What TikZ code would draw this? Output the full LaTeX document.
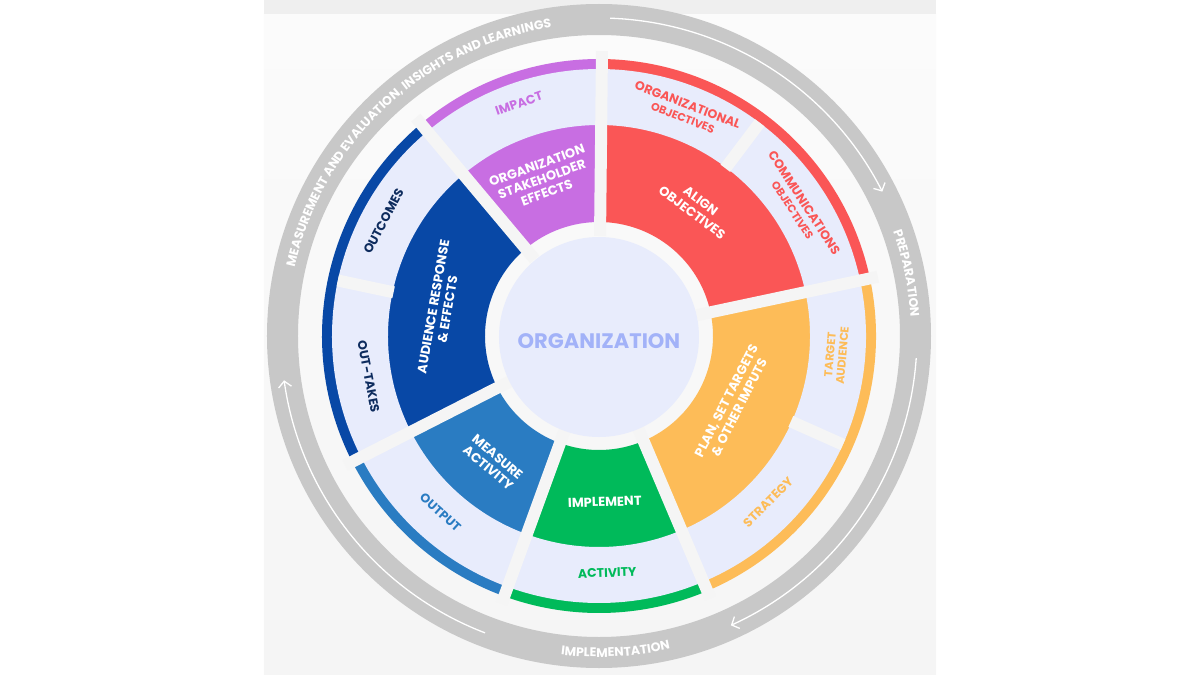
\documentclass[tikz,border=0pt]{standalone}
\usepackage{fontspec}
\setmainfont{Poppins}
\usetikzlibrary{arrows.meta,decorations.text}
\definecolor{panelbg}{RGB}{245,245,245}
\definecolor{topstrip}{RGB}{239,239,239}
\definecolor{ringgray}{RGB}{200,200,200}
\definecolor{lav}{RGB}{232,236,252}
\definecolor{orgred}{RGB}{250,86,86}
\definecolor{orgpurple}{RGB}{200,110,226}
\definecolor{darkblue}{RGB}{8,72,166}
\definecolor{midblue}{RGB}{42,124,194}
\definecolor{orggreen}{RGB}{0,186,90}
\definecolor{orgorange}{RGB}{253,188,88}
\definecolor{navytext}{RGB}{14,44,94}
\definecolor{centertext}{RGB}{162,178,248}

\newcommand{\ringpart}[5]{\fill[#1] (#2:#4) arc[start angle=#2, end angle=#3, radius=#4] -- (#3:#5) arc[start angle=#3, end angle=#2, radius=#5] -- cycle;}

\begin{document}
\begin{tikzpicture}[
    x=1pt, y=1pt,
    inner/.style={font=\bfseries\fontsize{13}{14.5}\selectfont, text=white, align=center, inner sep=0pt},
    outer/.style={font=\bfseries\fontsize{12.5}{13.5}\selectfont, align=center, inner sep=0pt},
    cut/.style={draw=panelbg, line width=12pt},
    flow/.style={white, line width=1.3pt, -{Straight Barb[length=6pt,width=13pt]}},
    ringtext/.style={decorate, decoration={text along path, text align=center, text color=white}}
]
\useasboundingbox (-599,-339) rectangle (601,336);
\shade[top color=panelbg!40!white, bottom color=panelbg] (-335,-339) rectangle (337,322);
\fill[topstrip] (-335,322) rectangle (337,336);
\draw[ringgray, line width=31pt] (0,0) circle[radius=316.5];

\foreach \a/\b/\c in {12/89.4/orgred, 89.4/130/orgpurple, 130/207/darkblue, 207/250/midblue, 250/293/orggreen, 293/372/orgorange}{
  \ringpart{\c}{\a}{\b}{114}{277}
  \ringpart{lav}{\a}{\b}{211}{267}
}
\foreach \a in {12,89.4,130,207,250,293}
  \draw[cut] (\a:100) -- (\a:285);
\foreach \a in {53,168,336}
  \draw[cut] (\a:210) -- (\a:267);

\fill[lav] (0,-1) circle[radius=100];
\node[font=\bfseries\fontsize{21}{24}\selectfont, text=centertext] (org) at (0,-5) {ORGANIZATION};

\node[inner, rotate=20] (stake) at (110:167) {ORGANIZATION\\STAKEHOLDER\\EFFECTS};
\node[inner, rotate=-37] (align) at (53:162) {ALIGN\\OBJECTIVES};
\node[inner, rotate=63] (plan) at (-27:150) {PLAN, SET TARGETS\\\& OTHER IMPUTS};
\node[inner, rotate=2] (impl) at (-88:166) {IMPLEMENT};
\node[inner, rotate=-40] (meas) at (-130:165) {MEASURE\\ACTIVITY};
\node[inner, rotate=80] (resp) at (170:161) {AUDIENCE RESPONSE\\\& EFFECTS};

\node[outer, text=orgpurple, rotate=19] (impact) at (109:246) {IMPACT};
\node[outer, text=orgred, rotate=-21] (orgobj) at (69:241) {ORGANIZATIONAL\\{\fontsize{11}{12}\selectfont OBJECTIVES}};
\node[outer, text=orgred, rotate=-57] (commobj) at (33:238) {COMMUNICATIONS\\{\fontsize{11}{12}\selectfont OBJECTIVES}};
\node[outer, text=orgorange, rotate=85, font=\bfseries\fontsize{11.5}{12.5}\selectfont] (target) at (-4.6:238) {TARGET\\AUDIENCE};
\node[outer, text=orgorange, rotate=45] (strategy) at (-44.5:237) {STRATEGY};
\node[outer, text=orggreen, rotate=2] (activity) at (-88:237) {ACTIVITY};
\node[outer, text=midblue, rotate=-42] (output) at (-132:237) {OUTPUT};
\node[outer, text=navytext, rotate=62] (outcomes) at (152:244) {OUTCOMES};
\node[outer, text=navytext, rotate=-79] (outtakes) at (-170:234) {OUT-TAKES};

\path[ringtext, decoration={text={|\fontsize{12.5}{14}\selectfont\bfseries|MEASUREMENT AND EVALUATION, INSIGHTS AND LEARNINGS}}] (200:312) arc[start angle=200, end angle=66, radius=312];
\path[ringtext, decoration={text={|\fontsize{12.5}{14}\selectfont\bfseries|PREPARATION}}] (45:312) arc[start angle=45, end angle=-22, radius=312];
\path[ringtext, decoration={text={|\fontsize{12.5}{14}\selectfont\bfseries|IMPLEMENTATION}}] (-125:321) arc[start angle=-125, end angle=-49, radius=321];

\draw[flow] (88:318) arc[start angle=88, end angle=27, radius=318];
\draw[flow] (-4:318) arc[start angle=-4, end angle=-65.5, radius=318];
\draw[flow] (-111:318) arc[start angle=-111, end angle=-172, radius=318];
\end{tikzpicture}
\end{document}
